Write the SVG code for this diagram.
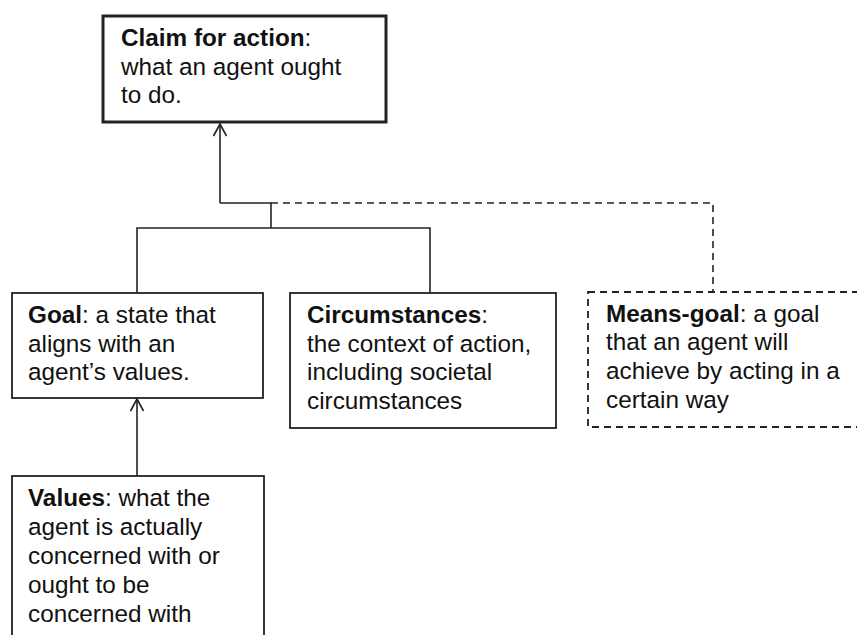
<svg xmlns="http://www.w3.org/2000/svg" width="857" height="635" viewBox="0 0 857 635">
<style>
.box{fill:#fff;stroke:#222;stroke-width:1.8}
.thick{stroke-width:3}
.dash{stroke-dasharray:7 5}
.ln{fill:none;stroke:#222;stroke-width:1.6}
text{font-family:"Liberation Sans",Arial,sans-serif;font-size:24.3px;fill:#111}
.b{font-weight:bold}
</style>
<defs>
<marker id="open" viewBox="0 0 16 16" refX="13" refY="8" markerWidth="16" markerHeight="16" markerUnits="userSpaceOnUse" orient="auto">
<path d="M1,1.5 L13,8 L1,14.5" fill="none" stroke="#222" stroke-width="1.6"/>
</marker>
</defs>
<rect width="857" height="635" fill="#fff"/>
<g id="connectors">
<path class="ln" d="M220,203 L220,124" marker-end="url(#open)"/>
<path class="ln" d="M220,203 L271,203 L271,228"/>
<path class="ln" d="M137,293 L137,228 L430,228 L430,293"/>
<path class="ln dash" d="M271,203 L713,203 L713,292"/>
<path class="ln" d="M137,476 L137,399" marker-end="url(#open)"/>
</g>
<g id="claim">
<rect class="box thick" x="103" y="16" width="283" height="106"/>
<text x="121" y="46"><tspan class="b">Claim for action</tspan>:</text>
<text x="121" y="75">what an agent ought</text>
<text x="121" y="103">to do.</text>
</g>
<g id="goal">
<rect class="box" x="12" y="293" width="251" height="105"/>
<text x="28" y="323"><tspan class="b">Goal</tspan>: a state that</text>
<text x="28" y="352">aligns with an</text>
<text x="28" y="380">agent’s values.</text>
</g>
<g id="circumstances">
<rect class="box" x="290" y="293" width="266" height="135"/>
<text x="307" y="323"><tspan class="b">Circumstances</tspan>:</text>
<text x="307" y="352">the context of action,</text>
<text x="307" y="380">including societal</text>
<text x="307" y="409">circumstances</text>
</g>
<g id="means-goal">
<rect class="box dash" x="588" y="292" width="280" height="135"/>
<text x="606" y="322"><tspan class="b">Means-goal</tspan>: a goal</text>
<text x="606" y="350">that an agent will</text>
<text x="606" y="379">achieve by acting in a</text>
<text x="606" y="408">certain way</text>
</g>
<g id="values">
<rect class="box" x="12" y="476" width="252" height="180"/>
<text x="28" y="506"><tspan class="b">Values</tspan>: what the</text>
<text x="28" y="535">agent is actually</text>
<text x="28" y="564">concerned with or</text>
<text x="28" y="593">ought to be</text>
<text x="28" y="622">concerned with</text>
</g>
</svg>
